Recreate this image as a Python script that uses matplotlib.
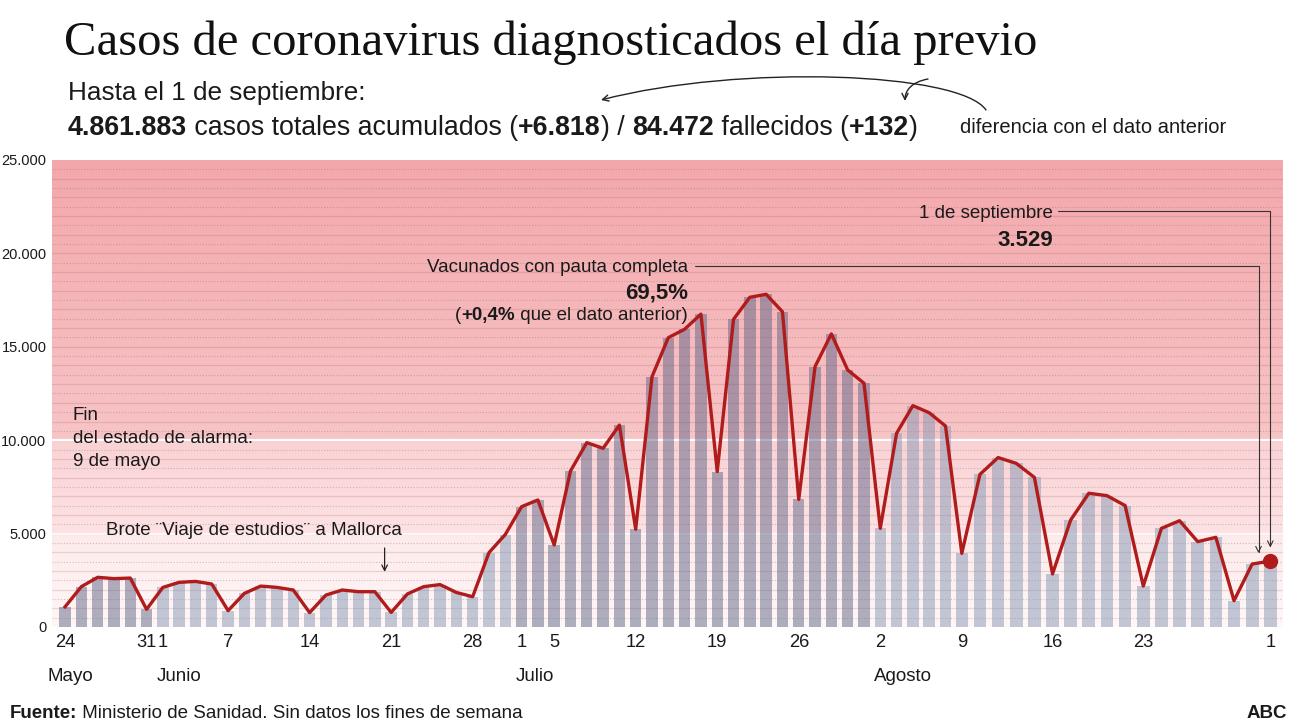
import numpy as np
import pandas as pd
import matplotlib
matplotlib.use('Agg')
import matplotlib.pyplot as plt
from matplotlib.patches import FancyArrowPatch
from matplotlib.path import Path
from matplotlib.ticker import FuncFormatter
from matplotlib.colors import to_rgb

# ---------------- data ----------------
dates = pd.bdate_range('2021-05-24', '2021-09-01')   # weekdays only
cases = [1080, 2160, 2660, 2590, 2620,
         945, 2120, 2390, 2440, 2300,
         875, 1800, 2190, 2120, 1980,
         770, 1710, 1980, 1890, 1890,
         780, 1770, 2160, 2270, 1850,
         1620, 3980, 4950, 6440, 6800,
         4390, 8350, 9870, 9565, 10810,
         5230, 13400, 15490, 15940, 16750,
         8320, 16470, 17650, 17810, 16880,
         6830, 13940, 15690, 13760, 13050,
         5280, 10370, 11850, 11470, 10760,
         3940, 8170, 9070, 8760, 8010,
         2840, 5730, 7160, 7030, 6500,
         2190, 5280, 5690, 4570, 4800,
         1410, 3370, 3529]
tick_dates = ['2021-05-24', '2021-05-31', '2021-06-01', '2021-06-07', '2021-06-14',
              '2021-06-21', '2021-06-28', '2021-07-01', '2021-07-05', '2021-07-12',
              '2021-07-19', '2021-07-26', '2021-08-02', '2021-08-09', '2021-08-16',
              '2021-08-23', '2021-09-01']
tick_labels = ['24', '31', '1', '7', '14', '21', '28', '1', '5', '12', '19', '26',
               '2', '9', '16', '23', '1']
month_labels = ['Mayo', 'Junio', 'Julio', 'Agosto']
month_dates = ['2021-05-24', '2021-06-01', '2021-07-01', '2021-08-02']
y_ticks = [0, 5000, 10000, 15000, 20000, 25000]
brote_date = '2021-06-21'

# ---------------- style ----------------
W, H = 1293, 728
SANS = ['Liberation Sans', 'DejaVu Sans']
SERIF = ['Liberation Serif', 'DejaVu Serif']
plt.rcParams['font.family'] = SANS
TXT = '#1a1a1a'
RED = '#b01c1c'
DARK_BAR, LIGHT_BAR = '#5f6688', '#8497b5'
month_bar = {5: DARK_BAR, 6: LIGHT_BAR, 7: DARK_BAR, 8: LIGHT_BAR, 9: LIGHT_BAR}

fig = plt.figure(figsize=(W / 100, H / 100), dpi=100)
fig.patch.set_facecolor('white')
ax = fig.add_axes([52 / W, (H - 627) / H, (1283 - 52) / W, (627 - 160) / H])

x = np.arange(len(dates))

# slightly wider day spacing at the end of the graphic (as in the original)
BRK, R = 55.0, 1.113
def fwd(v):
    v = np.asarray(v, float)
    return np.where(v <= BRK, v, BRK + (v - BRK) * R)
def inv(v):
    v = np.asarray(v, float)
    return np.where(v <= BRK, v, BRK + (v - BRK) / R)
ax.set_xscale('function', functions=(fwd, inv))
ax.set_xlim(-0.8, 72.7)
ax.set_ylim(0, 25000)

# ---------------- background bands ----------------
bands = [(0, 5000, '#fff6f6', '#fdeaea'),
         (5000, 10000, '#fde2e3', '#f9d1d3'),
         (10000, 25000, '#f7c4c6', '#f3a7ab')]
for y0, y1, c0, c1 in bands:
    c0, c1 = np.array(to_rgb(c0)), np.array(to_rgb(c1))
    n = 40
    edges = np.linspace(y0, y1, n + 1)
    for i in range(n):
        f = (i + 0.5) / n
        ax.axhspan(edges[i], edges[i + 1], color=c0 + (c1 - c0) * f, lw=0, zorder=0)

for v in range(500, 25000, 500):
    if v % 1000 == 0:
        ax.axhline(v, color=(0.55, 0.3, 0.33), alpha=0.18, lw=0.9, zorder=1)
    else:
        ax.axhline(v, color=(0.45, 0.4, 0.42), alpha=0.35, lw=0.8,
                   linestyle=(0, (1, 1.6)), zorder=1)
ax.axhline(10000, color='white', lw=1.6, zorder=1.5)
ax.axhline(5000, color='white', lw=1.2, zorder=1.5)

# ---------------- bars & line ----------------
bar_colors = [month_bar[d.month] for d in dates]
ax.bar(x, cases, width=0.7, color=bar_colors, alpha=0.5, lw=0, zorder=2)
ax.plot(x, cases, color=RED, lw=2.4, solid_joinstyle='round', zorder=5)
ax.plot(x[-1], cases[-1], 'o', ms=10, color=RED, zorder=6)

# ---------------- axes ----------------
for s in ax.spines.values():
    s.set_visible(False)
tick_idx = [dates.get_loc(pd.Timestamp(d)) for d in tick_dates]
ax.set_xticks(tick_idx)
ax.set_xticklabels(tick_labels)
ax.set_yticks(y_ticks)
ax.yaxis.set_major_formatter(FuncFormatter(lambda v, _: f"{int(v):,}".replace(',', '.')))
ax.tick_params(axis='x', length=0, pad=5, labelsize=13.2, labelcolor=TXT)
ax.tick_params(axis='y', length=0, pad=4, labelsize=10.5, labelcolor=TXT)

month_offsets = [-18, -6, -6, -6]
for lab, d, off in zip(month_labels, month_dates, month_offsets):
    ax.annotate(lab, xy=(dates.get_loc(pd.Timestamp(d)), H - 681),
                xycoords=('data', 'figure pixels'), xytext=(off, 0),
                textcoords='offset pixels', ha='left', va='baseline',
                fontsize=13.5, color=TXT, annotation_clip=False)

# ---------------- text helpers ----------------
r = fig.canvas.get_renderer()

def P(px, py):
    return (px / W, 1 - py / H)

def adv(s, size, weight, family=SANS):
    t1 = fig.text(0, 0, 'X' + s + 'X', fontsize=size, fontweight=weight, family=family)
    t2 = fig.text(0, 0, 'XX', fontsize=size, fontweight=weight, family=family)
    w = t1.get_window_extent(r).width - t2.get_window_extent(r).width
    t1.remove(); t2.remove()
    return w

def rich(px, py, parts, size, ha='left', family=SANS, color=TXT):
    widths = [adv(s, size, w, family) for s, w in parts]
    cx = px if ha == 'left' else px - sum(widths)
    for (s, w), wd in zip(parts, widths):
        fig.text(*P(cx, py), s, fontsize=size, fontweight=w, family=family,
                 ha='left', va='baseline', color=color)
        cx += wd

# ---------------- titles ----------------
fig.text(*P(64, 55), 'Casos de coronavirus diagnosticados el día previo',
         family=SERIF, fontsize=35, color='#111', va='baseline')
rich(68, 100, [('Hasta el 1 de septiembre:', 'normal')], 18.8)
rich(68, 135, [('4.861.883', 'bold'), (' casos totales acumulados (', 'normal'),
               ('+6.818', 'bold'), (') / ', 'normal'), ('84.472', 'bold'),
               (' fallecidos (', 'normal'), ('+132', 'bold'), (')', 'normal')], 19.3)
fig.text(*P(960, 133), 'diferencia con el dato anterior', fontsize=14.5,
         color=TXT, va='baseline')

big = Path([P(986, 110), P(960, 72), P(740, 64), P(601, 100)],
           [Path.MOVETO, Path.CURVE4, Path.CURVE4, Path.CURVE4])
fig.add_artist(FancyArrowPatch(path=big, arrowstyle='->', mutation_scale=11,
                               lw=1.0, color='#222', transform=fig.transFigure))
small = Path([P(928, 79), P(912, 82), P(905, 90), P(905, 101)],
             [Path.MOVETO, Path.CURVE4, Path.CURVE4, Path.CURVE4])
fig.add_artist(FancyArrowPatch(path=small, arrowstyle='->', mutation_scale=11,
                               lw=1.0, color='#222', transform=fig.transFigure))

# ---------------- in-chart annotations ----------------
rich(1053, 218, [('1 de septiembre', 'normal')], 13.5, ha='right')
rich(1053, 246, [('3.529', 'bold')], 16, ha='right')
rich(688, 272, [('Vacunados con pauta completa', 'normal')], 13.5, ha='right')
rich(688, 299, [('69,5%', 'bold')], 16, ha='right')
rich(688, 320, [('(', 'normal'), ('+0,4%', 'bold'), (' que el dato anterior)', 'normal')],
     13.5, ha='right')

arrow_kw = dict(arrowstyle='->', color='#333', lw=0.8, shrinkA=0, shrinkB=0,
                connectionstyle='angle,angleA=0,angleB=90,rad=0')
ax.annotate('', xy=(x[-1], 4250), xycoords='data', xytext=(1058, H - 211),
            textcoords='figure pixels', arrowprops=arrow_kw, annotation_clip=False)
ax.annotate('', xy=(x[-1] - 0.65, 3950), xycoords='data', xytext=(695, H - 266),
            textcoords='figure pixels', arrowprops=arrow_kw, annotation_clip=False)

rich(106, 535, [('Brote ¨Viaje de estudios¨ a Mallorca', 'normal')], 13.5)
bx = dates.get_loc(pd.Timestamp(brote_date)) - 0.4
ax.annotate('', xy=(bx, 2950), xytext=(bx, 4230),
            arrowprops=dict(arrowstyle='->', color='#222', lw=0.9, shrinkA=0, shrinkB=0))

for yy, line in zip([420, 443, 466], ['Fin', 'del estado de alarma:', '9 de mayo']):
    rich(73, yy, [(line, 'normal')], 13.5)

# ---------------- footer ----------------
rich(10, 718, [('Fuente:', 'bold'),
               (' Ministerio de Sanidad. Sin datos los fines de semana', 'normal')], 13.5)
rich(1287, 718, [('ABC', 'bold')], 13.5, ha='right')

fig.savefig('out.png', dpi=100)
